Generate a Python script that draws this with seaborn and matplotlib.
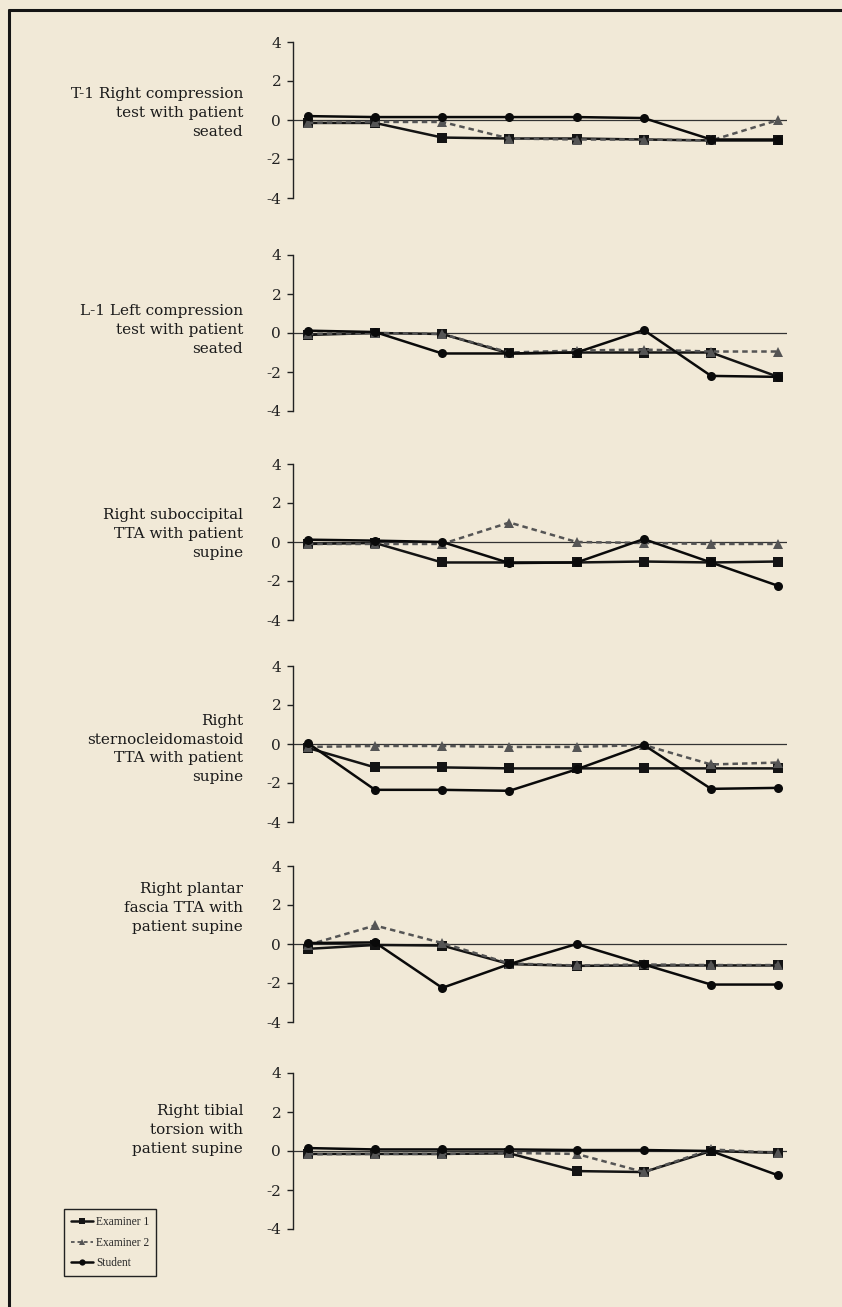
import numpy as np
import pandas as pd
import matplotlib
matplotlib.use("Agg")
import matplotlib.pyplot as plt
import seaborn as sns
from matplotlib.lines import Line2D

# trials 1..8, three raters, six tests
trials = [1, 2, 3, 4, 5, 6, 7, 8]
raters = ["Examiner 1", "Examiner 2", "Student"]

labels = [
    "T-1 Right compression\ntest with patient\nseated",
    "L-1 Left compression\ntest with patient\nseated",
    "Right suboccipital\nTTA with patient\nsupine",
    "Right\nsternocleidomastoid\nTTA with patient\nsupine",
    "Right plantar\nfascia TTA with\npatient supine",
    "Right tibial\ntorsion with\npatient supine",
]

exam1 = [
    [-0.15, -0.15, -0.9, -0.95, -0.95, -1.0, -1.05, -1.05],
    [-0.1, 0.0, -0.05, -1.05, -1.0, -1.0, -1.0, -2.25],
    [-0.1, -0.05, -1.05, -1.05, -1.05, -1.0, -1.05, -1.0],
    [-0.2, -1.2, -1.2, -1.25, -1.25, -1.25, -1.25, -1.25],
    [-0.25, -0.05, -0.08, -1.03, -1.12, -1.1, -1.1, -1.1],
    [-0.15, -0.15, -0.15, -0.12, -1.03, -1.08, 0.0, -0.1],
]
exam2 = [
    [-0.15, -0.1, -0.1, -0.95, -1.0, -1.0, -1.05, 0.0],
    [-0.05, 0.0, -0.05, -1.0, -0.9, -0.85, -0.95, -0.95],
    [-0.1, -0.1, -0.1, 1.0, 0.0, -0.05, -0.1, -0.1],
    [-0.15, -0.1, -0.1, -0.15, -0.15, -0.05, -1.05, -0.95],
    [-0.05, 0.95, 0.05, -1.0, -1.1, -1.05, -1.08, -1.08],
    [-0.17, -0.15, -0.15, -0.1, -0.15, -1.08, 0.08, -0.1],
]
student = [
    [0.2, 0.15, 0.15, 0.15, 0.15, 0.1, -1.0, -1.0],
    [0.12, 0.05, -1.05, -1.05, -1.0, 0.15, -2.2, -2.25],
    [0.12, 0.07, 0.0, -1.08, -1.05, 0.15, -1.05, -2.25],
    [0.05, -2.35, -2.35, -2.4, -1.3, -0.05, -2.3, -2.25],
    [0.05, 0.08, -2.25, -1.03, 0.0, -1.05, -2.08, -2.08],
    [0.15, 0.08, 0.08, 0.08, 0.05, 0.05, 0.0, -1.25],
]
yticks = [4, 2, 0, -2, -4]

bg = "#f1e9d7"
pal = {"Examiner 1": "#141414", "Examiner 2": "#555555", "Student": "#0a0a0a"}
mk = {"Examiner 1": "s", "Examiner 2": "^", "Student": "o"}
ds = {"Examiner 1": "", "Examiner 2": (2.2, 1.6), "Student": ""}

sns.set_style("white")
plt.rcParams["font.family"] = ["DejaVu Serif"]
plt.rcParams["axes.unicode_minus"] = False

W, H = 842, 1307
fig = plt.figure(figsize=(W / 100, H / 100), dpi=100)
fig.patch.set_facecolor(bg)

ax_left, ax_right, half = 293, 787, 78
zeros_px = [120, 333, 542, 744, 944, 1151]      # pixel row of each zero line
label_shift = [-7, -3, -8, 5, -36, -21]          # label block centre vs zero line

for i in range(6):
    y0 = zeros_px[i]
    ax = fig.add_axes([ax_left / W, 1 - (y0 + half) / H,
                       (ax_right - ax_left) / W, 2 * half / H])
    ax.set_facecolor("none")
    df = pd.DataFrame({
        "trial": trials * 3,
        "score": exam1[i] + exam2[i] + student[i],
        "rater": np.repeat(raters, len(trials)),
    })
    ax.axhline(0, color="#333333", lw=0.9, zorder=1)
    sns.lineplot(data=df, x="trial", y="score", hue="rater", style="rater",
                 hue_order=raters, style_order=raters, palette=pal,
                 markers=mk, dashes=ds, markersize=6.5, markeredgewidth=0,
                 linewidth=1.8, errorbar=None, legend=False, ax=ax)
    ax.set_xlim(0.78, 8.13)
    ax.set_ylim(-4, 4)
    ax.set_yticks(yticks)
    ax.set_yticklabels([str(t) for t in yticks], fontsize=11)
    ax.set_xticks([])
    ax.set_xlabel("")
    ax.set_ylabel("")
    for s in ["top", "right", "bottom"]:
        ax.spines[s].set_visible(False)
    ax.spines["left"].set_color("#222222")
    ax.spines["left"].set_linewidth(1.0)
    ax.tick_params(axis="y", direction="out", length=4.5, width=1.0,
                   pad=4, colors="#222222", left=True)
    fig.text(243 / W, 1 - (y0 + label_shift[i]) / H, labels[i], ha="right",
             va="center", fontsize=11, linespacing=1.45, color="#1a1a1a")

# page frame (top and left edges)
fig.add_artist(Line2D([9 / W, 9 / W], [0, 1 - 10 / H], transform=fig.transFigure,
                      color="#151515", lw=2.2))
fig.add_artist(Line2D([9 / W, 1], [1 - 10 / H, 1 - 10 / H], transform=fig.transFigure,
                      color="#151515", lw=2.2))

handles = [
    Line2D([], [], color=pal["Examiner 1"], marker="s", lw=1.8, ms=4, mew=0),
    Line2D([], [], color=pal["Examiner 2"], marker="^", lw=1.3, ms=4.5, mew=0,
           dashes=(2, 1.6)),
    Line2D([], [], color=pal["Student"], marker="o", lw=1.8, ms=4.5, mew=0),
]
leg = fig.legend(handles, raters, loc="upper left",
                 bbox_to_anchor=(64 / W, 1 - 1209 / H), borderaxespad=0,
                 prop={"family": "Liberation Serif", "size": 8.3},
                 handlelength=1.9, handletextpad=0.3, labelspacing=0.75,
                 borderpad=0.6, frameon=True, fancybox=False,
                 facecolor=bg, edgecolor="#222222", framealpha=1)
leg.get_frame().set_linewidth(1.0)

fig.savefig("out.png", dpi=100, facecolor=bg)
